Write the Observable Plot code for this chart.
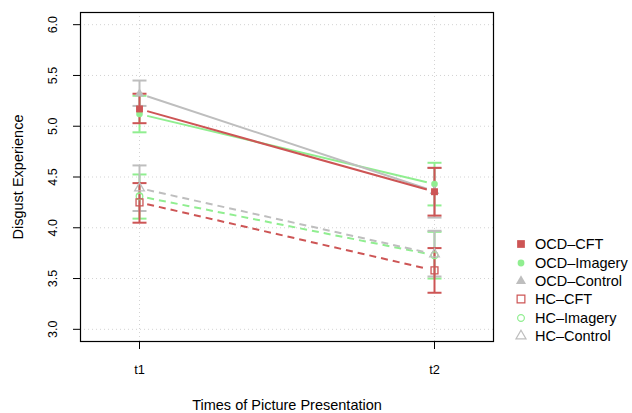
<!DOCTYPE html>
<html>
<head>
<meta charset="utf-8">
<script src="https://cdn.jsdelivr.net/npm/d3@7"></script>
<script src="https://cdn.jsdelivr.net/npm/@observablehq/plot@0.6"></script>
<style>
  html, body { margin: 0; padding: 0; background: white; }
  #wrap { position: relative; width: 632px; height: 413px; font-family: "Liberation Sans", Arial, Helvetica, sans-serif; }
  #legend { position: absolute; left: 514px; top: 235px; font-size: 14.5px; }
  .item { display: flex; align-items: center; height: 18.4px; white-space: nowrap; }
  .item svg { margin-right: 7px; }
</style>
</head>
<body>
<div id="wrap"><div id="legend"></div></div>
<script>
// ---- data ----
const groups = ["OCD\u2013CFT", "OCD\u2013Imagery", "OCD\u2013Control", "HC\u2013CFT", "HC\u2013Imagery", "HC\u2013Control"];
const times = ["t1", "t2"];
const meanT1 = [5.17, 5.12, 5.32, 4.25, 4.31, 4.39];
const meanT2 = [4.355, 4.43, 4.36, 3.58, 3.73, 3.74];
const lowT1  = [5.03, 4.94, 5.20, 4.05, 4.09, 4.165];
const highT1 = [5.32, 5.30, 5.45, 4.44, 4.525, 4.614];
const lowT2  = [4.12, 4.22, 4.10, 3.36, 3.50, 3.52];
const highT2 = [4.59, 4.64, 4.59, 3.80, 3.96, 3.97];
const yTicks = [3.0, 3.5, 4.0, 4.5, 5.0, 5.5, 6.0];
const xTicks = [1, 2];

// ---- styles ----
const colors = ["#CD5555", "#90EE90", "#BEBEBE", "#CD5555", "#90EE90", "#BEBEBE"];
const symbols = ["square", "circle", "triangle", "square", "circle", "triangle"];
const filled = [true, true, true, false, false, false];
const dashed = [false, false, false, true, true, true];
const drawOrder = [4, 5, 3, 1, 2, 0];

const capSymbol = { draw(ctx) { ctx.moveTo(-7, 0); ctx.lineTo(7, 0); } };
const gap = 0.026;

const rows = [];
groups.forEach((g, i) => {
  rows.push({g: i, t: 1, m: meanT1[i], lo: lowT1[i], hi: highT1[i]});
  rows.push({g: i, t: 2, m: meanT2[i], lo: lowT2[i], hi: highT2[i]});
});

const marks = [
  Plot.gridY(yTicks, {stroke: "#d3d3d3", strokeOpacity: 1, strokeDasharray: "1,3"}),
  Plot.gridX(xTicks, {stroke: "#d3d3d3", strokeOpacity: 1, strokeDasharray: "1,3"}),
  Plot.axisY(yTicks, {tickSize: 7, tickFormat: () => "", label: null, stroke: "black"}),
  Plot.axisX(xTicks, {tickSize: 8, tickFormat: () => "", label: null, stroke: "black"}),
  Plot.text(yTicks, {y: d => d, frameAnchor: "left", dx: -28, rotate: -90, text: d => d.toFixed(1), lineAnchor: "middle", textAnchor: "middle", fontSize: 12.5, fill: "black"}),
  Plot.text(xTicks, {x: d => d, frameAnchor: "bottom", dy: 28, text: d => times[d - 1], lineAnchor: "middle", fontSize: 12.8, fill: "black"}),
  Plot.text(["Times of Picture Presentation"], {frameAnchor: "bottom", dy: 64, text: d => d, lineAnchor: "middle", fontSize: 14.5, fill: "black"}),
  Plot.text(["Disgust Experience"], {frameAnchor: "left", dx: -62, rotate: -90, text: d => d, lineAnchor: "middle", textAnchor: "middle", fontSize: 14.5, fill: "black"})
];

for (const i of drawOrder) {
  const d = rows.filter(r => r.g === i);
  const c = colors[i];
  marks.push(Plot.ruleX(d, {x: "t", y1: "lo", y2: "hi", stroke: c, strokeWidth: 2}));
  marks.push(Plot.dot(d, {x: "t", y: "lo", symbol: capSymbol, stroke: c, strokeWidth: 2, fill: "none", r: 3}));
  marks.push(Plot.dot(d, {x: "t", y: "hi", symbol: capSymbol, stroke: c, strokeWidth: 2, fill: "none", r: 3}));
  const a = d[0], b = d[1];
  marks.push(Plot.link([{a, b}], {
    x1: () => a.t + gap, y1: () => a.m + (b.m - a.m) * gap,
    x2: () => b.t - gap, y2: () => b.m - (b.m - a.m) * gap,
    stroke: c, strokeWidth: 2, strokeDasharray: dashed[i] ? "7,5" : null
  }));
}
for (const i of drawOrder) {
  const d = rows.filter(r => r.g === i);
  const c = colors[i];
  const r = symbols[i] === "square" ? 3.9 : symbols[i] === "circle" ? 3.3 : 3.6;
  marks.push(Plot.dot(d, filled[i]
    ? {x: "t", y: "m", symbol: symbols[i], r, fill: c, stroke: "none"}
    : {x: "t", y: "m", symbol: symbols[i], r, fill: "none", stroke: c, strokeWidth: 1.3}));
}
marks.push(Plot.frame({stroke: "black", strokeWidth: 1.2}));

const chart = Plot.plot({
  width: 632, height: 413,
  marginLeft: 80, marginRight: 139, marginTop: 12, marginBottom: 72,
  style: {fontFamily: "'Liberation Sans', Arial, Helvetica, sans-serif", fontSize: "12.5px", background: "white", color: "black"},
  x: {domain: [0.8, 2.2]},
  y: {domain: [2.88, 6.12]},
  marks
});
document.getElementById("wrap").prepend(chart);

// ---- legend ----
const legend = d3.select("#legend");
groups.forEach((g, i) => {
  const item = legend.append("div").attr("class", "item");
  const s = item.append("svg").attr("width", 14).attr("height", 14);
  const size = symbols[i] === "square" ? 60 : symbols[i] === "circle" ? 36 : 44;
  const type = symbols[i] === "square" ? d3.symbolSquare : symbols[i] === "circle" ? d3.symbolCircle : d3.symbolTriangle;
  s.append("path").attr("transform", "translate(7,7)")
    .attr("d", d3.symbol(type, size)())
    .attr("fill", filled[i] ? colors[i] : "none")
    .attr("stroke", filled[i] ? "none" : colors[i])
    .attr("stroke-width", 1.2);
  item.append("span").text(g);
});
</script>
</body>
</html>
